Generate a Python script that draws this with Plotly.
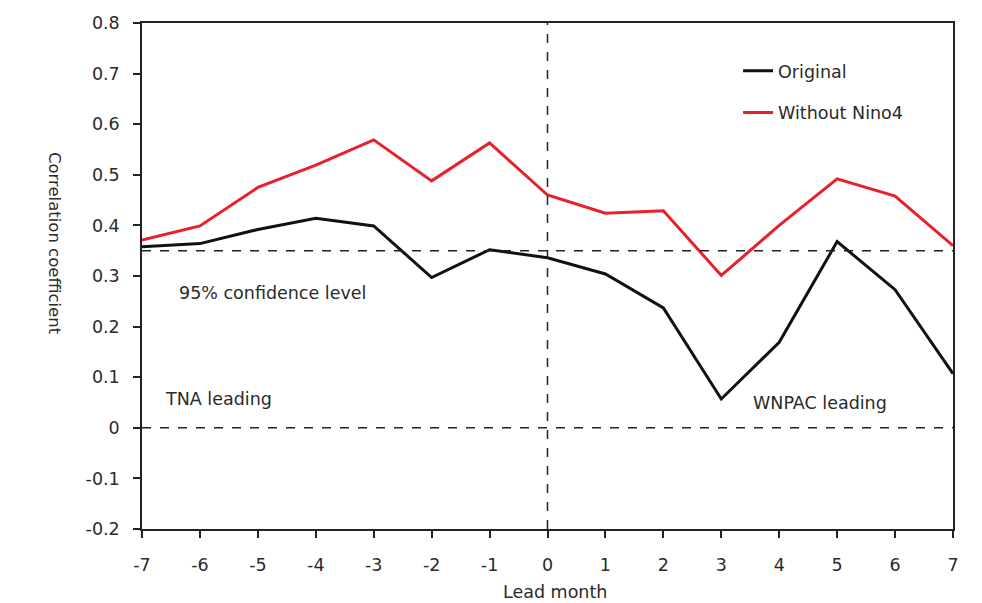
import plotly.graph_objects as go

lead_month = [-7, -6, -5, -4, -3, -2, -1, 0, 1, 2, 3, 4, 5, 6, 7]
original = [0.358, 0.364, 0.392, 0.414, 0.399, 0.297, 0.352, 0.336, 0.304, 0.237, 0.057, 0.169, 0.368, 0.273, 0.107]
without_nino4 = [0.371, 0.399, 0.475, 0.519, 0.569, 0.488, 0.563, 0.460, 0.424, 0.429, 0.301, 0.400, 0.492, 0.458, 0.360]
conf_level = 0.35

x_tickvals = lead_month
x_ticktext = ["-7", "-6", "-5", "-4", "-3", "-2", "-1", "0", "1", "2", "3", "4", "5", "6", "7"]
y_tickvals = [0.8, 0.7, 0.6, 0.5, 0.4, 0.3, 0.2, 0.1, 0, -0.1, -0.2]
y_ticktext = ["0.8", "0.7", "0.6", "0.5", "0.4", "0.3", "0.2", "0.1", "0", "-0.1", "-0.2"]

FONT = "DejaVu Sans, sans-serif"
TXT = "#2a2a2a"
FS = 17.5

fig = go.Figure()
fig.add_trace(go.Scatter(x=lead_month, y=original, mode="lines", name="Original",
                         line=dict(color="#111111", width=3), legendgroup="a"))
fig.add_trace(go.Scatter(x=lead_month, y=without_nino4, mode="lines", name="Without Nino4",
                         line=dict(color="#e8202a", width=3), legendgroup="b"))

# reference lines
fig.add_hline(y=conf_level, line=dict(color="#222222", width=1.5, dash="dash"))
fig.add_hline(y=0, line=dict(color="#222222", width=1.5, dash="dash"))
fig.add_vline(x=0, line=dict(color="#222222", width=1.5, dash="dash"))

fig.add_annotation(x=-6.40, y=0.267, text="95% confidence level", showarrow=False,
                   xanchor="left", yanchor="middle", font=dict(size=FS, color=TXT, family=FONT))
fig.add_annotation(x=-6.64, y=0.056, text="TNA leading", showarrow=False,
                   xanchor="left", yanchor="middle", font=dict(size=FS, color=TXT, family=FONT))
fig.add_annotation(x=3.52, y=0.050, text="WNPAC leading", showarrow=False,
                   xanchor="left", yanchor="middle", font=dict(size=FS, color=TXT, family=FONT))
fig.add_annotation(xref="paper", yref="paper", x=-0.107, y=0.565, text="Correlation coefficient",
                   showarrow=False, textangle=90, xanchor="center", yanchor="middle",
                   font=dict(size=16.5, color=TXT, family=FONT))
fig.add_annotation(xref="paper", yref="paper", x=0.509, y=-0.124, text="Lead month",
                   showarrow=False, xanchor="center", yanchor="middle",
                   font=dict(size=FS, color=TXT, family=FONT))

fig.update_layout(
    width=974, height=595,
    margin=dict(l=134, r=29, t=15, b=74),
    paper_bgcolor="white", plot_bgcolor="white",
    font=dict(family=FONT, size=FS, color=TXT),
    showlegend=True,
    legend=dict(x=0.735, y=0.941, xanchor="left", yanchor="top", bgcolor="rgba(0,0,0,0)",
                font=dict(size=FS, color=TXT, family=FONT), tracegroupgap=16, itemwidth=30),
    xaxis=dict(range=[-7, 7], tickvals=x_tickvals, ticktext=x_ticktext, showgrid=False,
               zeroline=False, showline=True, linecolor="#222222", linewidth=1.5, mirror=True,
               ticks="outside", ticklen=7, tickcolor="#222222", tickwidth=1.5,
               ticklabelstandoff=12, automargin=False),
    yaxis=dict(range=[-0.2, 0.8], tickvals=y_tickvals, ticktext=y_ticktext, showgrid=False,
               zeroline=False, showline=True, linecolor="#222222", linewidth=1.5, mirror=True,
               ticks="outside", ticklen=7, tickcolor="#222222", tickwidth=1.5,
               ticklabelstandoff=10, automargin=False),
)

fig.write_html("out.html")
